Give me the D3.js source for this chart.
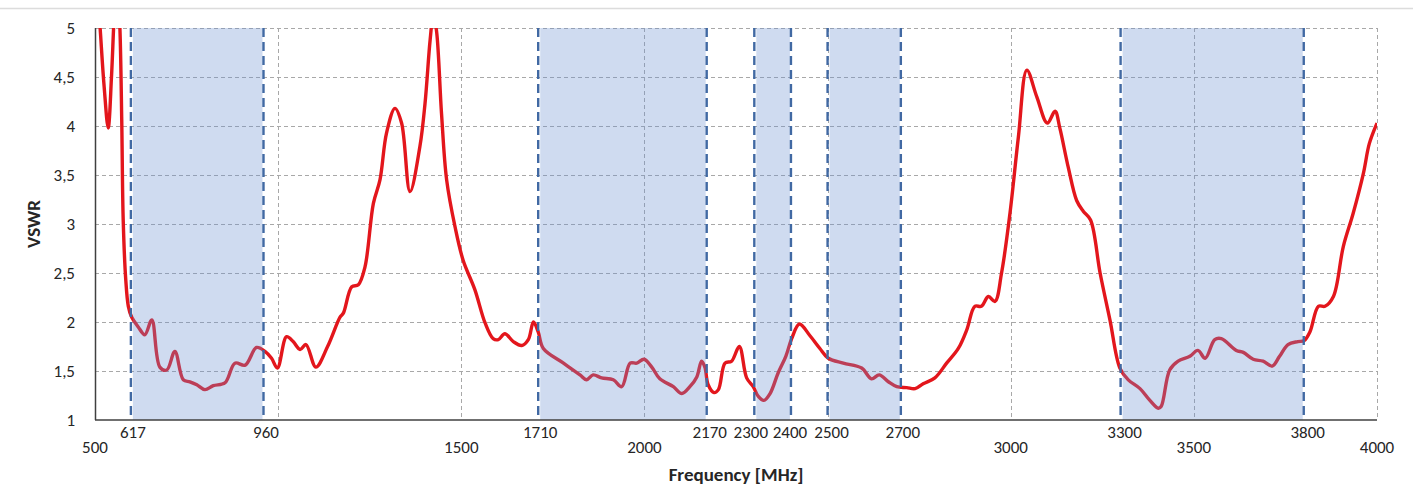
<!DOCTYPE html>
<html>
<head>
<meta charset="utf-8">
<script src="https://cdn.jsdelivr.net/npm/d3@7/dist/d3.min.js"></script>
<style>
  html, body { margin: 0; padding: 0; background: #fff; }
  svg { display: block; font-family: Calibri, Carlito, Lato, sans-serif; }
</style>
</head>
<body>
<div class="chart"></div>
<script>
var freq = [500, 514, 525, 536, 545, 552, 560, 568, 573, 577, 584, 591, 600, 618, 636, 655,
  677, 696, 718, 741, 759, 778, 800, 823, 855, 882, 910, 941, 964, 982, 998, 1023,
  1041, 1060, 1076, 1103, 1135, 1169, 1178, 1201, 1219, 1237, 1260, 1278, 1296, 1319,
  1337, 1360, 1387, 1401, 1415, 1424, 1433, 1446, 1460, 1483, 1505, 1537, 1565, 1587,
  1601, 1619, 1642, 1665, 1683, 1697, 1710, 1724, 1779, 1824, 1842, 1860, 1883, 1915,
  1938, 1961, 1979, 1999, 2020, 2042, 2079, 2102, 2124, 2143, 2156, 2165, 2174, 2190,
  2202, 2220, 2238, 2259, 2279, 2297, 2311, 2326, 2343, 2365, 2386, 2402, 2423, 2452,
  2479, 2502, 2543, 2593, 2620, 2641, 2666, 2689, 2716, 2739, 2761, 2793, 2825, 2857,
  2880, 2902, 2920, 2939, 2957, 2975, 2998, 3021, 3044, 3071, 3100, 3121, 3134, 3157,
  3180, 3198, 3218, 3244, 3271, 3298, 3321, 3353, 3380, 3403, 3411, 3434, 3457, 3489,
  3511, 3531, 3557, 3575, 3616, 3635, 3662, 3689, 3714, 3734, 3757, 3784, 3801, 3817,
  3840, 3858, 3881, 3908, 3935, 3963, 3979, 4000];
var vswr = [5.8, 5.0, 4.4, 3.98, 4.5, 5.1, 5.6, 5.0, 4.06, 3.04, 2.43, 2.16, 2.05, 1.95, 1.87, 2.02,
  1.54, 1.51, 1.70, 1.41, 1.39, 1.36, 1.31, 1.35, 1.38, 1.58, 1.56, 1.74, 1.70, 1.63, 1.53, 1.85,
  1.80, 1.72, 1.77, 1.54, 1.75, 2.05, 2.09, 2.36, 2.38, 2.56, 3.21, 3.45, 3.93, 4.18,
  4.03, 3.33, 3.79, 4.23, 4.88, 5.15, 4.95, 4.13, 3.45, 2.97, 2.63, 2.33, 1.99, 1.83,
  1.82, 1.88, 1.80, 1.76, 1.82, 2.00, 1.90, 1.73, 1.58, 1.46, 1.41, 1.46, 1.43, 1.41,
  1.34, 1.58, 1.58, 1.62, 1.54, 1.42, 1.34, 1.27, 1.34, 1.44, 1.60, 1.54, 1.36, 1.28,
  1.31, 1.58, 1.60, 1.75, 1.43, 1.34, 1.24, 1.20, 1.27, 1.48, 1.65, 1.83, 1.98, 1.86,
  1.73, 1.63, 1.58, 1.53, 1.42, 1.46, 1.39, 1.34, 1.33, 1.32, 1.37, 1.43, 1.58, 1.73,
  1.92, 2.16, 2.16, 2.26, 2.21, 2.50, 3.11, 3.89, 4.57, 4.30, 4.03, 4.15, 3.98, 3.58,
  3.24, 3.13, 3.04, 2.50, 2.02, 1.53, 1.41, 1.32, 1.20, 1.12, 1.14, 1.51, 1.60, 1.65,
  1.71, 1.63, 1.82, 1.83, 1.71, 1.69, 1.62, 1.60, 1.55, 1.65, 1.77, 1.80, 1.81, 1.90,
  2.16, 2.16, 2.26, 2.77, 3.11, 3.52, 3.82, 4.03];

/* frequency bands: edges as drawn, with their labels */
var bandEdges = [598, 960, 1710, 2170, 2300, 2400, 2500, 2700, 3300, 3800];
var bandLabels = ["617", "960", "1710", "2170", "2300", "2400", "2500", "2700", "3300", "3800"];
/* small nudges the original applied to its edge labels (px) */
var bandLabelNudge = [2, 2.5, 2, 3, -3.5, -1, 4, 2, 4, 4];
var bands = [[598, 960], [1710, 2170], [2300, 2400], [2500, 2700], [3300, 3800]];

var xGrid = [1000, 1500, 2000, 2500, 3000, 3500, 4000];
var xTickLabels = [500, 1500, 2000, 3000, 3500, 4000];
var yTicks = [1, 1.5, 2, 2.5, 3, 3.5, 4, 4.5, 5];

var WIDTH = 1413, HEIGHT = 488;
var margin = { left: 95, right: 36, top: 28, bottom: 68 };
var plotW = WIDTH - margin.left - margin.right;
var plotH = HEIGHT - margin.top - margin.bottom;

var x = d3.scaleLinear().domain([500, 4000]).range([0, plotW]);
var y = d3.scaleLinear().domain([1, 5]).range([plotH, 0]);
var fmt = function (v) { return String(v).replace(".", ","); };

var svg = d3.select("div.chart").append("svg")
  .attr("width", WIDTH).attr("height", HEIGHT);

/* thin frame line at the very top */
svg.append("line")
  .attr("x1", 0).attr("x2", WIDTH).attr("y1", 8.5).attr("y2", 8.5)
  .attr("stroke", "#dcdcdc").attr("stroke-width", 1.5);

var g = svg.append("g").attr("transform", "translate(" + margin.left + "," + margin.top + ")");

svg.append("defs").append("clipPath").attr("id", "plotClip")
  .append("rect").attr("x", 0).attr("y", 0).attr("width", plotW).attr("height", plotH);

/* grid */
g.selectAll("line.hgrid").data(yTicks.slice(1)).enter().append("line")
  .attr("class", "hgrid")
  .attr("x1", 0).attr("x2", plotW)
  .attr("y1", function (d) { return Math.round(y(d)) + 0.5; })
  .attr("y2", function (d) { return Math.round(y(d)) + 0.5; })
  .attr("stroke", "#a8a8a8").attr("stroke-width", 1).attr("stroke-dasharray", "4,3");

g.selectAll("line.vgrid").data(xGrid).enter().append("line")
  .attr("class", "vgrid")
  .attr("x1", function (d) { return Math.round(x(d)) + 0.5; })
  .attr("x2", function (d) { return Math.round(x(d)) + 0.5; })
  .attr("y1", 0).attr("y2", plotH)
  .attr("stroke", "#a8a8a8").attr("stroke-width", 1).attr("stroke-dasharray", "4,3");

/* curve */
var points = freq.map(function (f, i) { return [f, vswr[i]]; });
var line = d3.line()
  .x(function (d) { return x(d[0]); })
  .y(function (d) { return y(d[1]); })
  .curve(d3.curveCatmullRom.alpha(0.5));

g.append("path")
  .datum(points)
  .attr("clip-path", "url(#plotClip)")
  .attr("d", line)
  .attr("fill", "none")
  .attr("stroke", "#e3161c")
  .attr("stroke-width", 3.4)
  .attr("stroke-linejoin", "round");

/* translucent bands over the curve */
g.selectAll("rect.band").data(bands).enter().append("rect")
  .attr("class", "band")
  .attr("x", function (d) { return x(d[0]) + 2; })
  .attr("width", function (d) { return x(d[1]) - x(d[0]) - 3; })
  .attr("y", 0).attr("height", plotH)
  .attr("fill", "rgb(110,145,210)").attr("fill-opacity", 0.33);

/* band edges */
g.selectAll("line.edge").data(bandEdges).enter().append("line")
  .attr("class", "edge")
  .attr("x1", function (d) { return x(d); })
  .attr("x2", function (d) { return x(d); })
  .attr("y1", 0).attr("y2", plotH)
  .attr("stroke", "#4169a3").attr("stroke-width", 2.4).attr("stroke-dasharray", "9,5");

/* axes lines */
g.append("line").attr("x1", 0.5).attr("x2", 0.5).attr("y1", 0).attr("y2", plotH)
  .attr("stroke", "#404040").attr("stroke-width", 1.5);
g.append("line").attr("x1", 0).attr("x2", plotW).attr("y1", plotH).attr("y2", plotH)
  .attr("stroke", "#404040").attr("stroke-width", 1.5);

/* y labels */
g.selectAll("text.ylab").data(yTicks).enter().append("text")
  .attr("class", "ylab")
  .attr("x", -20).attr("y", function (d) { return y(d); })
  .attr("dy", "0.36em")
  .attr("text-anchor", "end")
  .attr("font-size", "17px").attr("fill", "#262626")
  .text(fmt);

/* band labels (upper row) */
g.selectAll("text.blab").data(bandEdges).enter().append("text")
  .attr("class", "blab")
  .attr("x", function (d, i) { return x(d) + bandLabelNudge[i]; })
  .attr("y", plotH + 18)
  .attr("text-anchor", "middle")
  .attr("font-size", "17px").attr("fill", "#262626")
  .text(function (d, i) { return bandLabels[i]; });

/* frequency labels (lower row) */
g.selectAll("text.xlab").data(xTickLabels).enter().append("text")
  .attr("class", "xlab")
  .attr("x", function (d) { return x(d); })
  .attr("y", plotH + 33)
  .attr("text-anchor", "middle")
  .attr("font-size", "17px").attr("fill", "#262626")
  .text(String);

/* titles */
g.append("text")
  .attr("x", plotW / 2).attr("y", plotH + 61)
  .attr("text-anchor", "middle")
  .attr("font-size", "19px").attr("font-weight", "bold").attr("fill", "#262626")
  .text("Frequency [MHz]");

g.append("text")
  .attr("transform", "translate(" + (-55.5) + "," + (plotH / 2) + ") rotate(-90)")
  .attr("text-anchor", "middle")
  .attr("font-size", "19px").attr("font-weight", "bold").attr("fill", "#262626")
  .text("VSWR");
</script>
</body>
</html>
